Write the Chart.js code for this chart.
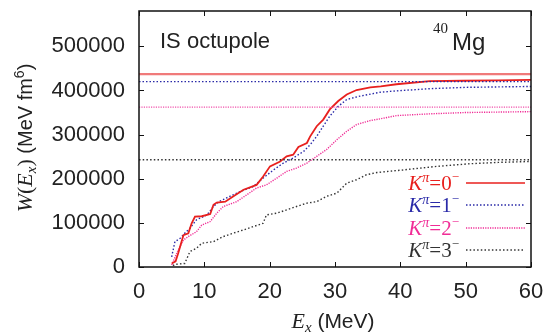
<!DOCTYPE html>
<html><head><meta charset="utf-8">
<script src="https://cdn.jsdelivr.net/npm/chart.js@4"></script>
<style>html,body{margin:0;padding:0;background:#fff}#wrap{width:543px;height:335px}</style>
</head><body><div id="wrap"><canvas id="c" width="543" height="335"></canvas></div>
<script>
const xTicks = [0, 10, 20, 30, 40, 50, 60];
const yTicks = [0, 100000, 200000, 300000, 400000, 500000];
const seriesLabels = ["0", "1", "2", "3"];
const E0 = [5.0, 5.6, 6.0, 6.8, 7.55, 8.06, 8.57, 9.6, 10.9, 11.4, 11.9, 13.2, 14.4, 16.0, 18.0, 19.0, 20.05, 21.6, 22.6, 23.6, 24.4, 25.7, 26.2, 27.2, 28.2, 29.2, 30.5, 31.8, 33.3, 35.4, 37.0, 39.4, 44.5, 49.6, 55, 60];
const W0 = [8000, 13000, 31000, 72000, 76500, 99000, 114000, 115000, 120000, 141000, 146000, 148000, 160000, 175000, 186000, 205000, 228000, 239000, 250700, 254500, 272000, 281000, 296000, 319000, 334000, 357000, 376000, 391000, 401000, 407000, 409000, 414000, 421000, 422000, 423000, 424000];
const E1 = [5.0, 5.5, 6.3, 7.0, 7.8, 8.8, 10.4, 11.4, 12.2, 13.9, 15.5, 17.5, 19.0, 20.6, 22.1, 23.6, 25.2, 26.2, 27.2, 28.2, 29.2, 30.5, 31.8, 33.8, 36.9, 39.4, 44.5, 50, 60];
const W1 = [23000, 57500, 65000, 76500, 88000, 107000, 118000, 137000, 148000, 160000, 171000, 182500, 201500, 220000, 235500, 247000, 262000, 277000, 296000, 319000, 341600, 364000, 379500, 387000, 396000, 399000, 404000, 407000, 409000];
const E2 = [5.0, 6.0, 6.8, 7.55, 8.8, 9.6, 10.9, 11.9, 12.9, 14.95, 16.5, 18.0, 19.5, 21.1, 22.6, 24.1, 25.7, 27.2, 28.7, 30.3, 31.8, 33.3, 35.4, 36.9, 39.4, 44.5, 50, 60];
const W2 = [4500, 38600, 61000, 69000, 80000, 95000, 103000, 122000, 137000, 148000, 163600, 179000, 186000, 201500, 216600, 224000, 235500, 250700, 266000, 288600, 307500, 322700, 331800, 335600, 343000, 347000, 350000, 352000];
const E3 = [5.2, 5.5, 7.0, 7.8, 8.8, 9.6, 11.4, 12.9, 14.4, 16.0, 17.5, 19.0, 19.5, 21.1, 22.6, 24.1, 25.7, 27.2, 28.7, 30.3, 31.8, 33.3, 34.8, 36.4, 40.5, 45.6, 50.7, 55, 60];
const W3 = [3000, 6000, 8000, 35000, 42500, 53800, 57500, 69000, 76500, 84000, 91600, 99000, 118000, 122000, 129500, 137000, 144700, 148000, 160000, 167500, 190000, 197700, 209000, 214000, 220000, 228000, 234000, 237000, 239000];
const totals = [437000, 420000, 362000, 243000];

const colors = ["#e8201e", "#2a2aa8", "#f02c96", "#333333"];
const refColors = ["#f07a7a", "#2a2aa8", "#f050aa", "#333333"];
const dashes = [[], [1.5, 2], [1.2, 1.2], [1.5, 2.2]];
const SANS = "'Liberation Sans', Arial, sans-serif";
const SERIF = "'Liberation Serif', 'Times New Roman', serif";

function pts(E, W) { return E.map((e, i) => ({x: e, y: W[i]})); }
const curves = [[E0, W0], [E1, W1], [E2, W2], [E3, W3]];
const datasets = [];
totals.forEach((t, i) => {
  datasets.push({data: [{x: 0, y: t}, {x: 60, y: t}], borderColor: refColors[i], borderWidth: i === 0 ? 2.2 : 1.3,
    borderDash: dashes[i], pointRadius: 0, tension: 0, fill: false});
});
curves.forEach((c, i) => {
  datasets.push({data: pts(c[0], c[1]), borderColor: colors[i], borderWidth: i === 0 ? 1.8 : 1.4,
    borderDash: dashes[i], pointRadius: 0, tension: 0, fill: false});
});

function drawRich(ctx, parts, x, y, align) {
  let total = 0;
  parts.forEach(p => { ctx.font = p[1]; total += ctx.measureText(p[0]).width; });
  let cx = align === 'center' ? x - total / 2 : (align === 'right' ? x - total : x);
  ctx.textAlign = 'left'; ctx.textBaseline = 'alphabetic';
  parts.forEach(p => { ctx.font = p[1]; ctx.fillText(p[0], cx, y + (p[2] || 0)); cx += ctx.measureText(p[0]).width; });
}

const deco = {
  id: 'deco',
  afterDraw(chart) {
    const ctx = chart.ctx, a = chart.chartArea;
    const xs = chart.scales.x, ys = chart.scales.y;
    ctx.save();
    ctx.strokeStyle = '#111'; ctx.lineWidth = 1.5;
    ctx.strokeRect(a.left, a.top, a.right - a.left, a.bottom - a.top);
    ctx.lineWidth = 1;
    const tl = 5;
    ctx.beginPath();
    xTicks.forEach(v => { const px = Math.round(xs.getPixelForValue(v)) + 0.5;
      ctx.moveTo(px, a.bottom); ctx.lineTo(px, a.bottom - tl);
      ctx.moveTo(px, a.top); ctx.lineTo(px, a.top + tl); });
    yTicks.forEach(v => { const py = Math.round(ys.getPixelForValue(v)) + 0.5;
      ctx.moveTo(a.left, py); ctx.lineTo(a.left + tl, py);
      ctx.moveTo(a.right, py); ctx.lineTo(a.right - tl, py); });
    ctx.stroke();

    ctx.fillStyle = '#222';
    ctx.font = '22px ' + SANS; ctx.textAlign = 'left';
    ctx.fillText('IS octupole', 160, 48);
    ctx.font = '15px ' + SERIF; ctx.fillText('40', 433, 33);
    ctx.font = '24px ' + SANS; ctx.fillText('Mg', 452, 50);

    drawRich(ctx, [['E', 'italic 22px ' + SERIF, 0], ['x', 'italic 15px ' + SERIF, 4], [' (MeV)', '21px ' + SANS, 0]], 333, 328, 'center');
    ctx.save();
    ctx.translate(32, 138);
    ctx.rotate(-Math.PI / 2);
    drawRich(ctx, [['W', 'italic 22px ' + SERIF, 0], ['(', '22px ' + SERIF, 0], ['E', 'italic 22px ' + SERIF, 0],
      ['x', 'italic 15px ' + SERIF, 4], [')', '22px ' + SERIF, 0], [' (MeV fm', '20px ' + SANS, 0],
      ['6', '14px ' + SANS, -8], [')', '20px ' + SANS, 0]], 0, 0, 'center');
    ctx.restore();

    const rows = [190, 212, 235, 257];
    seriesLabels.forEach((lab, i) => {
      ctx.fillStyle = colors[i];
      drawRich(ctx, [['K', 'italic 21px ' + SERIF, 0], ['\u03C0', 'italic 14px ' + SERIF, -8], ['=' + lab, '21px ' + SERIF, 0], ['\u2212', '13px ' + SERIF, -9]], 459, rows[i], 'right');
      ctx.strokeStyle = colors[i];
      ctx.lineWidth = i === 0 ? 1.5 : 1.3;
      ctx.setLineDash(dashes[i]);
      ctx.beginPath(); ctx.moveTo(466, rows[i] - 7); ctx.lineTo(525, rows[i] - 7); ctx.stroke();
      ctx.setLineDash([]);
    });
    ctx.restore();
  }
};

new Chart(document.getElementById('c'), {
  type: 'line',
  data: {datasets},
  options: {
    responsive: false, animation: false, devicePixelRatio: 1,
    layout: {padding: {top: 11, right: 12, left: 0, bottom: 0}},
    plugins: {legend: {display: false}, tooltip: {enabled: false}},
    scales: {
      x: {type: 'linear', min: 0, max: 60,
        afterBuildTicks: s => { s.ticks = xTicks.map(v => ({value: v})); },
        afterFit: s => { s.height = 68; s.paddingLeft = 0; s.paddingRight = 0; },
        grid: {display: false, drawTicks: false}, border: {display: false},
        ticks: {padding: 12, color: '#222', font: {family: SANS, size: 22}, maxRotation: 0}},
      y: {type: 'linear', min: 0, max: 580000,
        afterBuildTicks: s => { s.ticks = yTicks.map(v => ({value: v})); },
        afterFit: s => { s.width = 139; s.paddingTop = 0; s.paddingBottom = 0; },
        grid: {display: false, drawTicks: false}, border: {display: false},
        ticks: {padding: 14, color: '#222', font: {family: SANS, size: 22}, callback: v => String(v)}}
    }
  },
  plugins: [deco]
});
</script></body></html>
